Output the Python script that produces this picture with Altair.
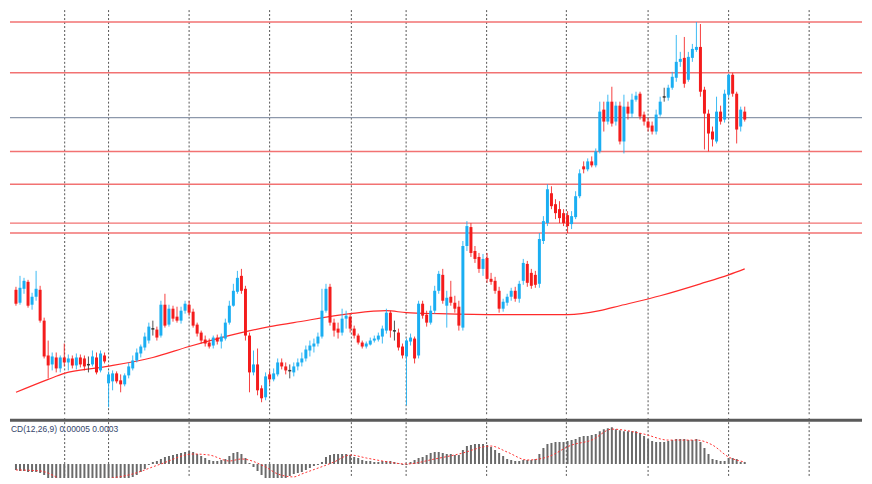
import altair as alt
import numpy as np
import pandas as pd

# ---- price candles (price points) ----
open_ = [211,198,212,219,196,204,211,180,145,136,
         143,132,143,138,142,135,143,142,135,136,
         143,130,145,
         117,119,127,120,116,125,132,
         140,147,153,160,171,171,165,196,176,192,
         184,180,190,196,189,176,168,161,158,155,
         163,159,162,178,195,209,225,212,165,128,
         136,112,103,126,121,126,138,134,129,128,
         134,138,142,150,154,157,164,190,214,178,
         172,168,182,184,172,165,158,154,156,160,
         161,164,170,188,169,168,154,144,159,162,
         145,197,186,178,190,210,226,195,204,198,
         194,173,255,274,250,244,232,243,222,220,
         210,192,198,204,210,202,220,237,228,226,
         217,260,278,308,297,292,288,286,277,284,
         305,335,332,340,336,350,392,380,400,380,
         396,360,395,388,402,408,387,380,376,370,
         387,404,404,414,424,440,444,422,444,452,
         455,412,388,370,360,390,382,407,427,408,
         375,390]
close = [197,213,220,195,204,212,180,144,135,144,
         132,143,138,142,135,143,136,134,135,144,
         128,147,139,
         126,127,119,116,125,134,140,
         148,154,164,174,171,163,196,175,192,182,
         180,190,197,188,175,167,160,157,154,163,
         159,164,178,195,210,223,210,165,128,136,
         110,102,124,121,127,138,134,130,129,134,
         138,142,151,155,157,164,190,212,178,170,
         168,182,185,172,165,158,154,157,160,162,
         165,172,188,170,169,153,145,160,163,142,
         197,185,178,190,210,227,200,203,198,192,
         175,255,275,248,242,232,242,222,219,210,
         192,199,204,210,202,217,238,218,215,216,
         262,280,312,295,288,283,278,275,285,305,
         328,332,340,336,350,390,380,400,378,396,
         360,395,388,402,406,385,380,374,370,387,
         400,404,414,425,440,443,418,445,453,455,
         410,388,368,362,390,380,408,427,408,372,
         392,382]
high = [214,225,223,221,208,230,215,183,160,148,
        148,145,157,146,145,147,146,145,144,150,
        148,150,148,
        129,130,129,126,127,138,145,
        152,156,168,178,180,174,200,207,196,195,
        194,194,200,200,192,178,170,165,162,165,
        166,167,182,200,217,230,232,215,168,150,
        152,115,128,130,132,142,142,138,136,138,
        142,148,155,160,162,168,212,217,217,182,
        178,192,190,187,175,167,160,159,163,165,
        168,175,192,190,180,172,157,162,167,164,
        200,200,190,195,215,230,232,210,220,205,
        200,260,280,278,255,248,247,248,228,224,
        214,202,207,213,214,220,242,240,232,230,
        268,285,317,315,302,300,292,290,290,310,
        332,340,343,345,353,400,400,407,415,400,
        400,407,400,408,410,410,390,384,380,392,
        405,414,417,430,467,450,465,450,458,480,
        478,415,392,375,405,396,412,428,429,410,
        395,395]
low = [195,196,207,193,191,200,178,142,122,130,
       128,128,134,130,132,131,133,130,128,134,
       126,128,137,
       93,110,117,108,114,122,130,
       138,143,150,157,165,160,163,173,174,179,
       178,177,187,185,173,164,157,154,152,152,
       156,152,160,176,194,207,207,160,108,125,
       105,98,100,116,119,124,131,126,122,124,
       130,134,139,144,148,154,162,188,175,164,
       162,165,172,168,162,156,152,152,155,158,
       159,157,167,163,160,150,142,95,155,137,
       142,182,174,176,187,207,197,173,195,188,
       170,170,250,244,238,228,225,218,216,207,
       188,189,195,200,199,198,216,214,212,213,
       213,257,275,292,282,278,275,268,272,282,
       303,328,330,334,334,348,370,377,375,376,
       357,348,382,384,400,382,376,370,367,367,
       385,400,401,412,420,435,414,420,440,450,
       405,352,350,355,358,377,379,404,405,358,
       370,380]

# ---- moving average (sparse readings) ----
ma_bar = [0, 8, 12, 21, 34, 43, 56, 63, 69, 83, 92, 97, 105, 120, 137, 145, 150, 160, 170, 177, 181]
ma_val = [108, 121, 127, 133, 143, 154, 168, 174, 178, 187, 190, 188, 187, 186, 186, 190, 195, 205, 217, 226, 232]

# ---- horizontal levels ----
red_levels = [480, 429, 350, 317, 278, 268]
gray_levels = [384]

# ---- vertical period separators (bar positions) ----
grid_bars = [12.1, 23, 43, 63, 83.3, 96.9, 116.9, 136.7, 157, 177, 197]

# ---- MACD histogram (x 1e-5) ----
macd_hist = [-12,-14,-14,-16,-16,-16,-18,-22,-28,-32,
             -36,-38,-40,-42,-42,-42,-42,-42,-40,-40,
             -38,-38,-36,-36,-34,-34,-32,-30,-28,-26,
             -22,-16,-10,-2,4,6,10,14,16,18,
             20,22,24,26,24,20,16,12,8,6,
             6,8,10,16,22,24,20,12,2,-6,
             -14,-22,-28,-32,-34,-32,-30,-28,-24,-20,
             -18,-16,-12,-8,-4,-2,4,14,18,20,
             20,20,20,18,14,12,8,6,6,4,
             4,6,6,6,4,2,-2,-2,4,8,
             12,14,18,22,24,24,22,20,20,18,
             18,28,36,38,40,40,40,38,34,28,
             22,16,10,8,6,6,8,8,8,10,
             20,32,40,42,44,44,44,46,48,50,
             54,56,56,58,60,66,70,72,74,70,
             68,66,66,66,66,62,56,50,46,44,
             44,44,46,48,50,50,50,48,48,50,
             44,32,20,10,8,6,6,12,12,10,
             4,4]
sig_bar = [0,6,15,21,29,36,44,48,53,56,62,65,69,71,79,83,87,91,97,104,
           110,118,122,127,132,138,143,148,156,162,169,173,177,181]
sig_val = [-12,-14,-42,-32,-20,0,20,18,6,10,-6,-20,-26,-20,4,18,12,6,0,10,
           20,36,24,8,14,38,48,70,60,48,48,38,14,4]
macd_label = "CD(12,26,9) 0.00005 0.0003"

W = 856
H_MAIN = 408
H_MACD = 60

df = pd.DataFrame({"bar": range(len(close)), "open": open_, "high": high,
                   "low": low, "close": close})
df["body_lo"] = df[["open", "close"]].min(axis=1)
df["body_hi"] = df[["open", "close"]].max(axis=1).astype(float)
df.loc[df.body_hi == df.body_lo, "body_hi"] = df.body_lo + 1.5
df["dir"] = np.where(df.close > df.open, "up", np.where(df.close < df.open, "down", "flat"))

x_scale = alt.Scale(domain=[-1.4833, 210.13], nice=False, zero=False, padding=0)
y_main = alt.Scale(domain=[84, 492], nice=False, zero=False, padding=0)
col = alt.Color("dir:N", legend=None,
                scale=alt.Scale(domain=["up", "down", "flat"],
                                range=["#1aaef2", "#f41c1c", "#333333"]))

grid_df = pd.DataFrame({"bar": grid_bars})
grid = alt.Chart(grid_df).mark_rule(color="#555555", strokeDash=[2, 2], strokeWidth=1).encode(
    x=alt.X("bar:Q", scale=x_scale, axis=None))

red_lv = alt.Chart(pd.DataFrame({"lvl": red_levels})).mark_rule(
    color="#f27272", strokeWidth=1.4).encode(y=alt.Y("lvl:Q", scale=y_main, axis=None))
gray_lv = alt.Chart(pd.DataFrame({"lvl": gray_levels})).mark_rule(
    color="#8d98ab", strokeWidth=1.2).encode(y=alt.Y("lvl:Q", scale=y_main, axis=None))

ma = alt.Chart(pd.DataFrame({"bar": ma_bar, "ma": ma_val})).mark_line(
    color="#ff2b2b", strokeWidth=1.2, interpolate="monotone").encode(
    x=alt.X("bar:Q", scale=x_scale, axis=None),
    y=alt.Y("ma:Q", scale=y_main, axis=None))

base = alt.Chart(df)
wicks = base.mark_rule(strokeWidth=1, opacity=0.85).encode(
    x=alt.X("bar:Q", scale=x_scale, axis=None),
    y=alt.Y("low:Q", scale=y_main, axis=None), y2="high:Q", color=col)
bodies = base.mark_bar(size=3).encode(
    x=alt.X("bar:Q", scale=x_scale, axis=None),
    y=alt.Y("body_lo:Q", scale=y_main, axis=None), y2="body_hi:Q", color=col)

main = alt.layer(grid, red_lv, gray_lv, ma, wicks, bodies).properties(width=W, height=H_MAIN)

# ---- MACD panel ----
y_macd = alt.Scale(domain=[-28, 92], nice=False, zero=False, padding=0)
mdf = pd.DataFrame({"bar": range(len(macd_hist)), "hist": macd_hist, "zero": 0})
hist = alt.Chart(mdf).mark_bar(size=2, color="#6a6a6a", clip=True).encode(
    x=alt.X("bar:Q", scale=x_scale, axis=None),
    y=alt.Y("hist:Q", scale=y_macd, axis=None), y2="zero:Q")
sig = alt.Chart(pd.DataFrame({"bar": sig_bar, "sig": sig_val})).mark_line(
    color="#ff3333", strokeDash=[2, 2], strokeWidth=1, interpolate="monotone", clip=True).encode(
    x=alt.X("bar:Q", scale=x_scale, axis=None),
    y=alt.Y("sig:Q", scale=y_macd, axis=None))
sep = alt.Chart(pd.DataFrame({"k": [0]})).mark_rule(color="#5a5a5a", strokeWidth=3).encode(
    x=alt.value(0), x2=alt.value(W), y=alt.value(2))
label = alt.Chart(pd.DataFrame({"t": [macd_label]})).mark_text(
    align="left", baseline="middle", fontSize=8.5, font="Liberation Sans", color="#34466b").encode(
    x=alt.value(1), y=alt.value(11), text="t:N")

macd = alt.layer(grid, hist, sig, sep, label).properties(width=W, height=H_MACD)

chart = alt.vconcat(main, macd, spacing=0).properties(padding=0).configure(
    background="white", view=alt.ViewConfig(strokeWidth=0, stroke=None))

chart.save("out.html", embed_options={"renderer": "svg", "actions": False})
